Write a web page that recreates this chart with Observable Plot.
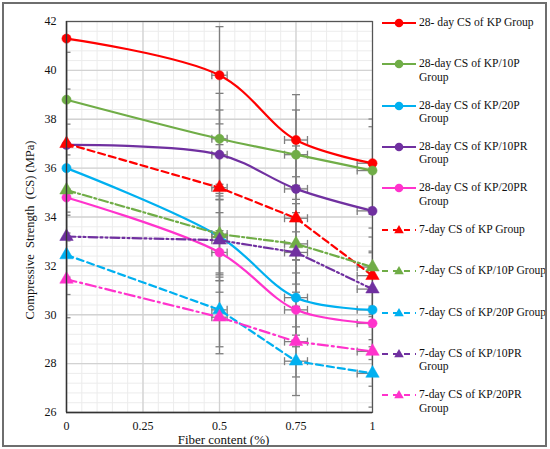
<!DOCTYPE html>
<html><head><meta charset="utf-8">
<script src="https://cdn.jsdelivr.net/npm/d3@7"></script>
<script src="https://cdn.jsdelivr.net/npm/@observablehq/plot@0.6"></script>
<style>
body{margin:0;background:#fff;}
#wrap{position:relative;width:550px;height:449px;font-family:"Liberation Serif","Times New Roman",serif;color:#111;}
#border{position:absolute;left:2px;top:2px;width:541px;height:441px;border:2px solid #6e6e6e;pointer-events:none;}
#legend{position:absolute;left:380px;top:0;width:166px;height:449px;}
.item{position:absolute;left:0;width:166px;}
.item svg{position:absolute;left:0;top:0;}
.item div{position:absolute;left:39px;top:0;font-size:11.6px;line-height:13.4px;white-space:nowrap;}
</style></head>
<body>
<div id="wrap"><div id="chart"></div><div id="legend"></div><div id="border"></div></div>
<script>
// ---- data ----
const fiberContent = [0, 0.5, 0.75, 1];
const cs28_KP     = [41.3, 39.8, 37.15, 36.2];
const cs28_KP10P  = [38.8, 37.2, 36.55, 35.9];
const cs28_KP20P  = [36.0, 33.2, 30.7, 30.2];
const cs28_KP10PR = [36.95, 36.55, 35.15, 34.25];
const cs28_KP20PR = [34.8, 32.55, 30.2, 29.65];
const cs7_KP      = [37.0, 35.2, 33.95, 31.6];
const cs7_KP10P   = [35.1, 33.3, 32.9, 31.95];
const cs7_KP20P   = [32.45, 30.2, 28.1, 27.6];
const cs7_KP10PR  = [33.2, 33.05, 32.55, 31.05];
const cs7_KP20PR  = [31.45, 29.9, 28.9, 28.5];
const errorPercent = 5; // percentage error bars on both axes
const seriesNames = [
  "28- day CS of KP Group", "28-day CS of KP/10P Group", "28-day CS of KP/20P Group",
  "28-day CS of KP/10PR Group", "28-day CS of KP/20PR Group",
  "7-day CS of KP Group", "7-day CS of KP/10P Group", "7-day CS of KP/20P Group",
  "7-day CS of KP/10PR Group", "7-day CS of KP/20PR Group"
];
const legendLines = [
  ["28- day CS of KP Group"], ["28-day CS of KP/10P", "Group"], ["28-day CS of KP/20P", "Group"],
  ["28-day CS of KP/10PR", "Group"], ["28-day CS of KP/20PR", "Group"],
  ["7-day CS of KP Group"], ["7-day CS of KP/10P Group"], ["7-day CS of KP/20P Group"],
  ["7-day CS of KP/10PR", "Group"], ["7-day CS of KP/20PR", "Group"]
];
const seriesValues = [cs28_KP, cs28_KP10P, cs28_KP20P, cs28_KP10PR, cs28_KP20PR,
                      cs7_KP, cs7_KP10P, cs7_KP20P, cs7_KP10PR, cs7_KP20PR];
const seriesAge = [28, 28, 28, 28, 28, 7, 7, 7, 7, 7];
const colors = ["#ff0000", "#70ad47", "#00b0f0", "#7030a0", "#ff33cc",
                "#ff0000", "#70ad47", "#00b0f0", "#7030a0", "#ff33cc"];
const dashes = [null, null, null, null, null, "7,4", "9,3,2,3", "7,4", "9,3,2,3,2,3", "10,4,2,4"];
const legendDashes = [null, null, null, null, null, "6,5", "6,5", "6,5", "6,5", "6,5"];
const yTicks = [26, 28, 30, 32, 34, 36, 38, 40, 42];
const xTicks = [0, 0.25, 0.5, 0.75, 1];
const xTickLabels = ["0", "0.25", "0.5", "0.75", "1"];
const yMinorStep = 0.4, xMinorStep = 0.05;

// ---- table ----
const rows = [];
seriesNames.forEach((name, s) => seriesValues[s].forEach((v, i) =>
  rows.push({series: name, s, x: fiberContent[i], y: v})));
const e = errorPercent / 100;
const yMinor = d3.range(26, 42.0001, yMinorStep);
const xMinor = d3.range(0, 1.0001, xMinorStep);

const hcap = {draw(ctx, size){const r = Math.sqrt(size/Math.PI); ctx.moveTo(-r,0); ctx.lineTo(r,0);}};
const vcap = {draw(ctx, size){const r = Math.sqrt(size/Math.PI); ctx.moveTo(0,-r); ctx.lineTo(0,r);}};
const errC = "#7f7f7f";
const serif = "'Liberation Serif', 'Times New Roman', serif";

const marks = [
  Plot.ruleX(xMinor, {stroke: "#ececec", strokeWidth: 1}),
  Plot.ruleY(yMinor, {stroke: "#ececec", strokeWidth: 1}),
  Plot.ruleX(xTicks, {stroke: "#d2d2d2", strokeWidth: 1.3}),
  Plot.ruleY(yTicks, {stroke: "#d2d2d2", strokeWidth: 1.3}),
  Plot.frame({stroke: "#555", strokeWidth: 1.2}),
  // error bars
  Plot.ruleX(rows, {x: "x", y1: d => d.y*(1-e), y2: d => d.y*(1+e), stroke: errC, strokeWidth: 1.3, clip: true}),
  Plot.ruleY(rows, {y: "y", x1: d => d.x*(1-e), x2: d => d.x*(1+e), stroke: errC, strokeWidth: 1.3, clip: true}),
  Plot.dot(rows, {x: "x", y: d => d.y*(1+e), symbol: hcap, r: 4, fill: "none", stroke: errC, strokeWidth: 1.3, clip: true}),
  Plot.dot(rows, {x: "x", y: d => d.y*(1-e), symbol: hcap, r: 4, fill: "none", stroke: errC, strokeWidth: 1.3, clip: true}),
  Plot.dot(rows.filter(d => d.x > 0), {x: d => d.x*(1-e), y: "y", symbol: vcap, r: 4, fill: "none", stroke: errC, strokeWidth: 1.3, clip: true}),
  Plot.dot(rows.filter(d => d.x > 0), {x: d => d.x*(1+e), y: "y", symbol: vcap, r: 4, fill: "none", stroke: errC, strokeWidth: 1.3, clip: true}),
];
seriesNames.forEach((name, s) => {
  const data = rows.filter(d => d.s === s);
  marks.push(Plot.line(data, {x: "x", y: "y", stroke: colors[s], strokeWidth: 2.2,
    strokeDasharray: dashes[s] || undefined, curve: seriesAge[s] === 28 ? "catmull-rom" : "linear"}));
});
seriesNames.forEach((name, s) => {
  const data = rows.filter(d => d.s === s);
  marks.push(Plot.dot(data, {x: "x", y: "y", fill: colors[s], stroke: colors[s], strokeWidth: 0.5,
    symbol: seriesAge[s] === 28 ? "circle" : "triangle", r: seriesAge[s] === 28 ? 4.6 : 5}));
});
marks.push(
  Plot.ruleX([0], {stroke: "#333", strokeWidth: 1.4}),
  Plot.ruleY([26], {stroke: "#333", strokeWidth: 1.4}),
  Plot.axisY({ticks: yTicks, tickSize: 0, tickPadding: 10, fontSize: 12, fontFamily: serif, label: null}),
  Plot.axisX({ticks: xTicks, tickFormat: (d, i) => xTickLabels[i], tickSize: 0, tickPadding: 9, fontSize: 12, fontFamily: serif, label: null}),
  Plot.text(["Fiber content (%)"], {frameAnchor: "bottom", dy: 31, dx: 4, fontSize: 13, fontFamily: serif, fill: "#111"}),
  Plot.text(["Compressive  Strength  (CS) (MPa)"], {frameAnchor: "left", textAnchor: "middle", lineAnchor: "middle",
    rotate: -90, dx: -37, dy: 13, fontSize: 12.5, fontFamily: serif, fill: "#111"})
);

const chart = Plot.plot({
  width: 550, height: 449,
  marginLeft: 66, marginRight: 178, marginTop: 21, marginBottom: 37,
  x: {domain: [0, 1]},
  y: {domain: [26, 42]},
  style: {fontFamily: serif, color: "#111", background: "white"},
  marks
});
document.getElementById("chart").append(chart);

// ---- legend ----
const legend = d3.select("#legend");
seriesNames.forEach((name, s) => {
  const top = 22.7 + s*41.4 - 7;
  const item = legend.append("div").attr("class", "item").style("top", top + "px");
  const svg = item.append("svg").attr("width", 38).attr("height", 14);
  svg.append("line").attr("x1", 2).attr("x2", 36).attr("y1", 7).attr("y2", 7)
    .attr("stroke", colors[s]).attr("stroke-width", 2.2)
    .attr("stroke-dasharray", legendDashes[s]);
  if (seriesAge[s] === 28) svg.append("circle").attr("cx", 19).attr("cy", 7).attr("r", 4.3).attr("fill", colors[s]);
  else svg.append("path").attr("d", d3.symbol(d3.symbolTriangle, 40)()).attr("transform", "translate(19,7.5)").attr("fill", colors[s]);
  item.append("div").html(legendLines[s].join("<br>"));
});
</script>
</body></html>
